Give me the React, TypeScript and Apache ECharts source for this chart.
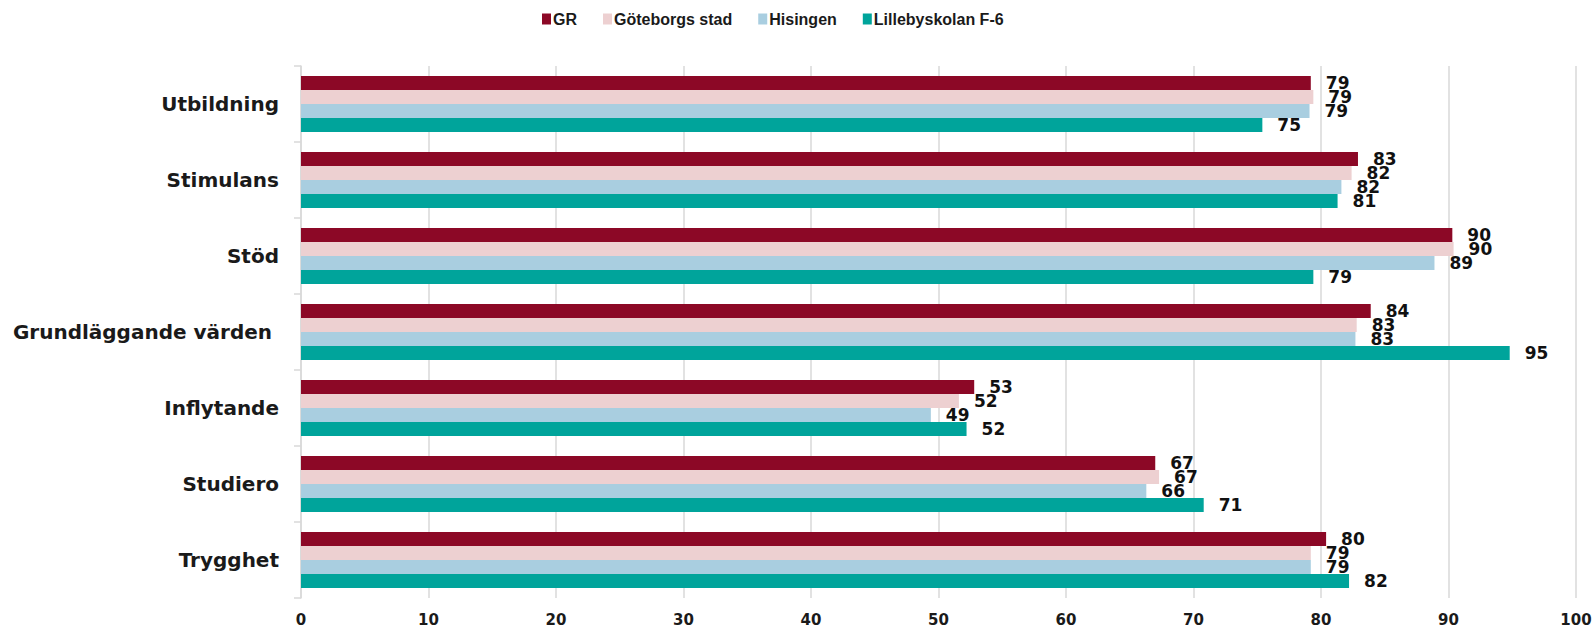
import React, { useEffect, useRef } from "react";
import * as echarts from "echarts";

const categories = ["Utbildning", "Stimulans", "Stöd", "Grundläggande värden ", "Inflytande", "Studiero", "Trygghet"];
const seriesNames = ["GR", "Göteborgs stad", "Hisingen", "Lillebyskolan F-6"];
const grValues = [79.2, 82.9, 90.3, 83.9, 52.8, 67.0, 80.4];
const gbgValues = [79.4, 82.4, 90.4, 82.8, 51.6, 67.3, 79.2];
const hisingenValues = [79.1, 81.6, 88.9, 82.7, 49.4, 66.3, 79.2];
const lillebyValues = [75.4, 81.3, 79.4, 94.8, 52.2, 70.8, 82.2];
const colors = ["#8C0826", "#EDD0D1", "#A9CEE0", "#00A49B"];
const xTicks = { min: 0, max: 100, interval: 10 };

export default function App() {
  const ref = useRef<HTMLDivElement>(null);
  useEffect(() => {
    if (!ref.current) return;
    const chart = echarts.init(ref.current, undefined, { renderer: "svg" });
    const allValues = [grValues, gbgValues, hisingenValues, lillebyValues];
    chart.setOption({
      animation: false,
      legend: {
        top: 6,
        left: 537,
        itemWidth: 9,
        itemHeight: 11,
        itemGap: 26,
        icon: "rect",
        textStyle: {
          fontFamily: "'Liberation Sans Narrow', 'Liberation Sans', sans-serif",
          fontWeight: "bold",
          fontSize: 16,
          color: "#1a1a1a",
          padding: [0, 0, 0, -3],
        },
        data: seriesNames,
      },
      grid: { left: 301, right: 19, top: 66, bottom: 32, containLabel: false },
      xAxis: {
        type: "value",
        min: xTicks.min,
        max: xTicks.max,
        interval: xTicks.interval,
        axisLine: { show: false },
        axisTick: { show: false },
        splitLine: { show: true, lineStyle: { color: "#D9D9D9", width: 1.5 } },
        axisLabel: {
          fontFamily: "'DejaVu Sans', sans-serif",
          fontSize: 15,
          fontWeight: "bold",
          color: "#1a1a1a",
          margin: 14,
        },
      },
      yAxis: {
        type: "category",
        data: categories,
        inverse: true,
        axisLine: { show: true, lineStyle: { color: "#D9D9D9", width: 1.5 } },
        axisTick: { show: true, length: 7, lineStyle: { color: "#D9D9D9", width: 1.5 } },
        axisLabel: {
          fontFamily: "'DejaVu Sans', sans-serif",
          fontSize: 20,
          fontWeight: "bold",
          color: "#1a1a1a",
          margin: 22,
        },
      },
      series: seriesNames.map((name, i) => ({
        name,
        type: "bar",
        data: allValues[i],
        barWidth: 14,
        barGap: "0%",
        itemStyle: { color: colors[i] },
        label: {
          show: true,
          position: "right",
          distance: 15,
          formatter: (p: any) => String(Math.round(p.value)),
          fontFamily: "'DejaVu Sans', sans-serif",
          fontSize: 17,
          fontWeight: 600,
          color: "#111",
        },
      })),
    });
    return () => chart.dispose();
  }, []);
  return (
    <div
      ref={ref}
      style={{ position: "fixed", left: 0, top: 0, width: 1595, height: 630, background: "#fff" }}
    />
  );
}
